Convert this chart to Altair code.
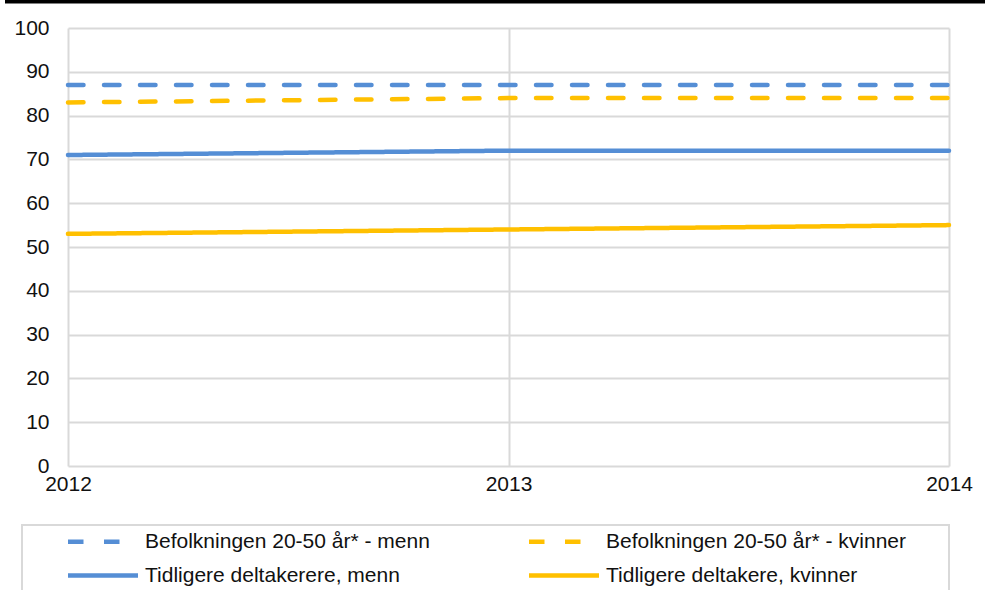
import altair as alt
import pandas as pd

# Andel (prosent) per år for fire grupper
years = [2012, 2013, 2014]
series_names = [
    "Befolkningen 20-50 år* - menn",
    "Tidligere deltakerere, menn",
    "Befolkningen 20-50 år* - kvinner",
    "Tidligere deltakere, kvinner",
]
bef_menn = [87, 87, 87]
tid_menn = [71, 72, 72]
bef_kvinner = [83, 84, 84]
tid_kvinner = [53, 54, 55]

series_colors = ["#558ED5", "#558ED5", "#FFC000", "#FFC000"]
series_dashes = [[15.5, 20.5], [1, 0], [15.5, 20.5], [1, 0]]

rows = []
for name, vals in zip(series_names, [bef_menn, tid_menn, bef_kvinner, tid_kvinner]):
    for yr, v in zip(years, vals):
        rows.append({"serie": name, "år": str(yr), "verdi": v})
df = pd.DataFrame(rows)

FONT = "Liberation Sans"
GRID = "#D9D9D9"
TEXT = "#111111"

legend = alt.Legend(
    title=None,
    orient="none",
    direction="vertical",
    legendX=24.5,
    legendY=503,
    columns=2,
    columnPadding=89,
    rowPadding=12,
    symbolType="M-10,0H10",
    symbolSize=49,
    symbolStrokeWidth=4.5,
    labelFont=FONT,
    labelFontSize=21,
    labelColor=TEXT,
    labelLimit=500,
    labelOffset=31.5,
    padding=0,
)

lines = alt.Chart(df).mark_line(strokeWidth=4.5, strokeCap="round").encode(
    x=alt.X(
        "år:O",
        scale=alt.Scale(type="point", padding=0),
        sort=[str(y) for y in years],
        axis=alt.Axis(
            title=None,
            labelAngle=0,
            grid=True,
            gridColor=GRID,
            gridWidth=2,
            domain=False,
            ticks=False,
            tickSize=0,
            labelOverlap=False,
            labelPadding=7,
            labelFont=FONT,
            labelFontSize=21,
            labelColor=TEXT,
        ),
    ),
    y=alt.Y(
        "verdi:Q",
        scale=alt.Scale(domain=[0, 100], nice=False),
        axis=alt.Axis(
            title=None,
            values=list(range(0, 101, 10)),
            grid=True,
            gridColor=GRID,
            gridWidth=2,
            domain=False,
            ticks=False,
            tickSize=0,
            labelPadding=19,
            labelFont=FONT,
            labelFontSize=21,
            labelColor=TEXT,
        ),
    ),
    color=alt.Color(
        "serie:N",
        scale=alt.Scale(domain=series_names, range=series_colors),
        sort=series_names,
        legend=legend,
    ),
    strokeDash=alt.StrokeDash(
        "serie:N",
        scale=alt.Scale(domain=series_names, range=series_dashes),
        sort=series_names,
        legend=legend,
    ),
)

frame_data = alt.Data(values=[{"k": 1}])

# Ramme rundt forklaringen
legend_box = alt.Chart(frame_data).mark_rect(
    fill="white", fillOpacity=0, stroke=GRID, strokeWidth=2
).encode(
    x=alt.value(-46), x2=alt.value(881), y=alt.value(497), y2=alt.value(590)
)

# Svart linje øverst
top_bar = alt.Chart(frame_data).mark_rule(color="black", strokeWidth=3.5).encode(
    x=alt.value(-63), x2=alt.value(917), y=alt.value(-26.3)
)

chart = (
    alt.layer(legend_box, top_bar, lines)
    .properties(
        width=881,
        height=438,
        autosize=alt.AutoSizeParams(type="none"),
        padding={"left": 68, "top": 28, "right": 41, "bottom": 124},
        background="white",
    )
    .configure_view(stroke=None)
)

chart.save("out.html", embed_options={"renderer": "svg", "actions": False})
